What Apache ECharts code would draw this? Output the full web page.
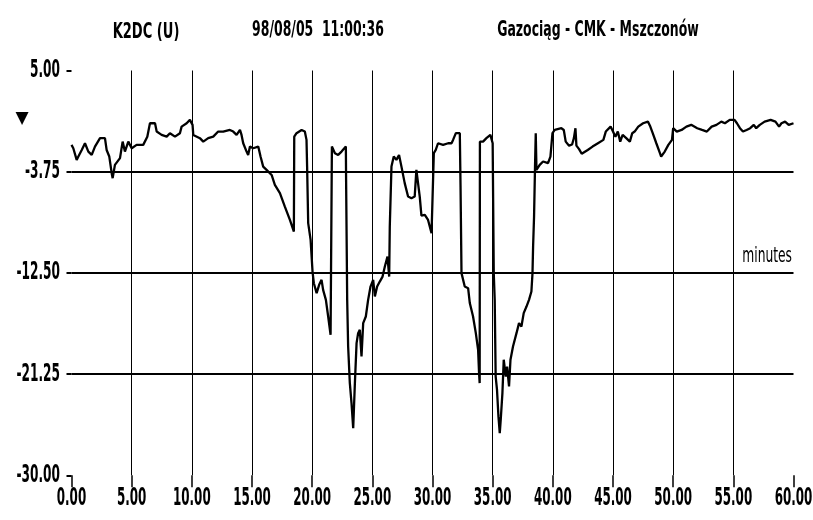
<!DOCTYPE html>
<html>
<head>
<meta charset="utf-8">
<script src="https://cdn.jsdelivr.net/npm/echarts@6/dist/echarts.min.js"></script>
<style>
html,body{margin:0;padding:0;background:#fff;}
#chart{width:813px;height:520px;}
</style>
</head>
<body>
<div id="chart"></div>
<script>
// Time in minutes
var minutes = [
0.00,0.15,0.43,0.57,0.85,1.12,1.40,1.68,1.95,2.37,2.78,2.92,3.14,3.34,3.42,3.61,4.03,4.25,4.44,4.72,
5.00,5.41,5.96,6.30,6.52,6.94,7.08,7.49,7.91,8.18,8.60,9.01,9.15,9.57,9.84,10.06,10.12,10.67,10.95,11.36,
11.78,12.19,12.61,13.16,13.44,13.72,14.00,14.13,14.27,14.55,14.68,14.83,15.10,15.52,15.71,15.93,16.21,16.63,16.90,17.32,
17.73,18.15,18.48,18.51,18.70,19.12,19.39,19.53,19.58,19.67,19.87,20.03,20.14,20.37,20.58,20.78,20.91,21.14,21.33,21.53,
21.61,21.64,21.89,22.16,22.44,22.80,22.82,22.91,22.99,23.13,23.27,23.41,23.55,23.69,23.82,23.96,24.10,24.24,24.46,24.65,
24.85,25.07,25.21,25.40,25.62,25.85,26.04,26.26,26.40,26.45,26.59,26.78,27.00,27.22,27.42,27.69,27.97,28.25,28.52,28.66,
28.80,28.94,29.08,29.36,29.50,29.63,29.92,30.11,30.27,30.46,30.88,31.30,31.58,31.71,31.94,32.27,32.33,32.41,32.68,32.96,
33.10,33.37,33.60,33.79,33.87,33.92,33.94,34.20,34.48,34.81,35.00,35.03,35.09,35.17,35.25,35.36,35.48,35.59,35.67,35.81,
35.92,36.09,36.20,36.36,36.48,36.69,36.98,37.19,37.39,37.58,37.81,38.02,38.22,38.31,38.36,38.44,38.52,38.58,38.64,38.91,
39.19,39.60,39.80,39.97,40.16,40.30,40.71,40.91,41.07,41.35,41.60,41.75,41.88,41.96,42.18,42.40,42.55,42.90,43.30,43.75,
44.20,44.40,44.80,45.00,45.20,45.40,45.60,45.80,46.10,46.40,46.60,46.80,47.10,47.50,47.90,48.10,48.30,48.60,48.90,49.00,
49.30,49.60,49.90,50.00,50.30,50.70,51.10,51.50,52.00,52.40,52.80,53.20,53.60,54.00,54.30,54.70,55.10,55.30,55.55,55.80,
56.10,56.40,56.70,56.90,57.20,57.60,58.10,58.50,58.80,59.00,59.30,59.60,60.00
];
// Measured value (U)
var values = [
-1.43,-1.72,-2.73,-2.44,-1.87,-1.29,-2.01,-2.30,-1.58,-0.85,-0.85,-1.87,-2.44,-3.88,-4.31,-3.16,-2.58,-1.15,-2.01,-1.15,
-1.72,-1.43,-1.43,-0.72,0.44,0.44,-0.28,-0.57,-0.72,-0.42,-0.72,-0.42,0.15,0.44,0.73,0.30,-0.57,-0.85,-1.15,-0.85,
-0.72,-0.28,-0.28,-0.14,-0.28,-0.57,-0.14,-0.57,-1.29,-2.01,-2.30,-1.58,-1.72,-1.58,-2.44,-3.31,-3.59,-4.03,-4.89,-5.61,
-6.77,-7.92,-8.93,-0.72,-0.42,-0.14,-0.28,-1.00,-3.31,-8.20,-9.64,-12.38,-13.39,-14.25,-13.53,-13.10,-13.97,-14.83,-16.27,-17.85,
-18.00,-1.58,-2.15,-2.30,-2.01,-1.58,-4.46,-14.83,-18.86,-22.03,-23.76,-25.92,-22.03,-18.57,-17.71,-17.42,-19.73,-16.84,-16.27,-14.83,
-13.68,-13.10,-14.54,-13.68,-13.25,-12.82,-11.95,-11.09,-12.82,-8.49,-3.31,-2.44,-2.73,-2.30,-3.31,-4.74,-5.90,-6.04,-5.90,-3.59,
-3.74,-5.90,-7.55,-7.48,-7.34,-7.92,-9.07,-2.15,-1.87,-1.29,-1.43,-1.29,-1.29,-1.00,-0.42,-0.42,-5.04,-12.52,-13.68,-13.82,
-15.11,-16.27,-17.71,-19.15,-21.17,-22.03,-1.15,-1.15,-0.85,-0.57,-1.29,-5.04,-12.52,-14.83,-21.46,-22.60,-24.91,-26.35,-25.20,-22.89,
-20.01,-21.46,-20.60,-22.32,-20.01,-18.86,-17.71,-16.84,-17.14,-15.98,-15.41,-14.83,-14.11,-12.52,-10.22,-7.63,-3.31,-0.42,-3.59,-3.16,
-2.87,-3.01,-2.44,-0.42,-0.14,0.01,0.01,-0.14,-1.15,-1.50,-1.40,-0.85,0.01,-1.50,-1.80,-2.20,-2.30,-1.87,-1.58,-1.29,
-1.00,-0.28,0.15,-0.28,-0.72,-0.28,-1.15,-0.57,-0.85,-1.15,-0.42,-0.28,0.15,0.44,0.58,0.15,-0.42,-1.29,-2.15,-2.44,
-2.01,-1.43,-1.00,0.01,-0.28,-0.14,0.15,0.30,0.01,-0.14,-0.28,0.15,0.30,0.58,0.44,0.73,0.73,0.44,0.01,-0.28,
-0.14,0.01,0.30,0.01,0.30,0.58,0.73,0.58,0.15,0.44,0.58,0.30,0.44
];
var yTicks = [-30, -21.25, -12.5, -3.75, 5];
var xTicks = [0, 5, 10, 15, 20, 25, 30, 35, 40, 45, 50, 55, 60];
var headerTexts = ['K2DC (U)', '98/08/05  11:00:36', 'Gazociąg - CMK - Mszczonów'];
var unitText = 'minutes';

var FONT = "'DejaVu Sans Condensed','DejaVu Sans',sans-serif";
var points = minutes.map(function (m, i) { return [m, values[i]]; });

var chart = echarts.init(document.getElementById('chart'), null, {renderer: 'canvas'});
chart.setOption({
  animation: false,
  backgroundColor: '#fff',
  grid: {left: 71.5, right: 19.5, top: 70.5, bottom: 44.7, containLabel: false, outerBoundsMode: 'none'},
  xAxis: {
    type: 'value',
    min: xTicks[0], max: xTicks[xTicks.length - 1], interval: 5,
    axisLine: {show: false, onZero: false},
    axisTick: {show: true, length: 12, lineStyle: {color: '#000', width: 1.5}},
    axisLabel: {show: false},
    splitLine: {show: true, showMinLine: false, showMaxLine: false, lineStyle: {color: '#000', width: 1}}
  },
  yAxis: {
    type: 'value',
    min: yTicks[0], max: yTicks[yTicks.length - 1], interval: 8.75,
    axisLine: {show: false, onZero: false},
    axisTick: {show: true, length: 5, lineStyle: {color: '#000', width: 2}},
    axisLabel: {show: false},
    splitLine: {show: true, showMinLine: false, showMaxLine: false, lineStyle: {color: '#000', width: 2}}
  },
  series: [{
    type: 'line',
    data: points,
    showSymbol: false,
    symbol: 'none',
    lineStyle: {color: '#000', width: 2.3},
    z: 5
  }]
});

// Tick labels placed through the axis scales (condensed lettering as in the original)
var g = [
  {type: 'text', x: 146, y: 32, scaleX: 0.66, style: {text: headerTexts[0], font: 'bold 22px ' + FONT, fill: '#000', textAlign: 'center', textVerticalAlign: 'middle'}},
  {type: 'text', x: 318, y: 30, scaleX: 0.63, style: {text: headerTexts[1], font: 'bold 22px ' + FONT, fill: '#000', textAlign: 'center', textVerticalAlign: 'middle'}},
  {type: 'text', x: 598, y: 30, scaleX: 0.63, style: {text: headerTexts[2], font: 'bold 22px ' + FONT, fill: '#000', textAlign: 'center', textVerticalAlign: 'middle'}},
  {type: 'text', x: 22, y: 119, style: {text: '▼', font: '17px DejaVu Sans', fill: '#000', textAlign: 'center', textVerticalAlign: 'middle'}},
  {type: 'text', x: 792, y: 257, scaleX: 0.65, style: {text: unitText, font: '21px ' + FONT, fill: '#000', textAlign: 'right', textVerticalAlign: 'middle'}}
];
xTicks.forEach(function (v) {
  var px = chart.convertToPixel({xAxisIndex: 0}, v);
  g.push({type: 'text', x: px, y: 498, scaleX: 0.53,
    style: {text: v.toFixed(2), font: 'bold 25px ' + FONT, fill: '#000', textAlign: 'center', textVerticalAlign: 'middle'}});
});
yTicks.forEach(function (v) {
  var py = chart.convertToPixel({yAxisIndex: 0}, v);
  g.push({type: 'text', x: 60, y: py, scaleX: 0.54,
    style: {text: v.toFixed(2), font: 'bold 25px ' + FONT, fill: '#000', textAlign: 'right', textVerticalAlign: 'middle'}});
});
chart.setOption({graphic: g});
</script>
</body>
</html>
